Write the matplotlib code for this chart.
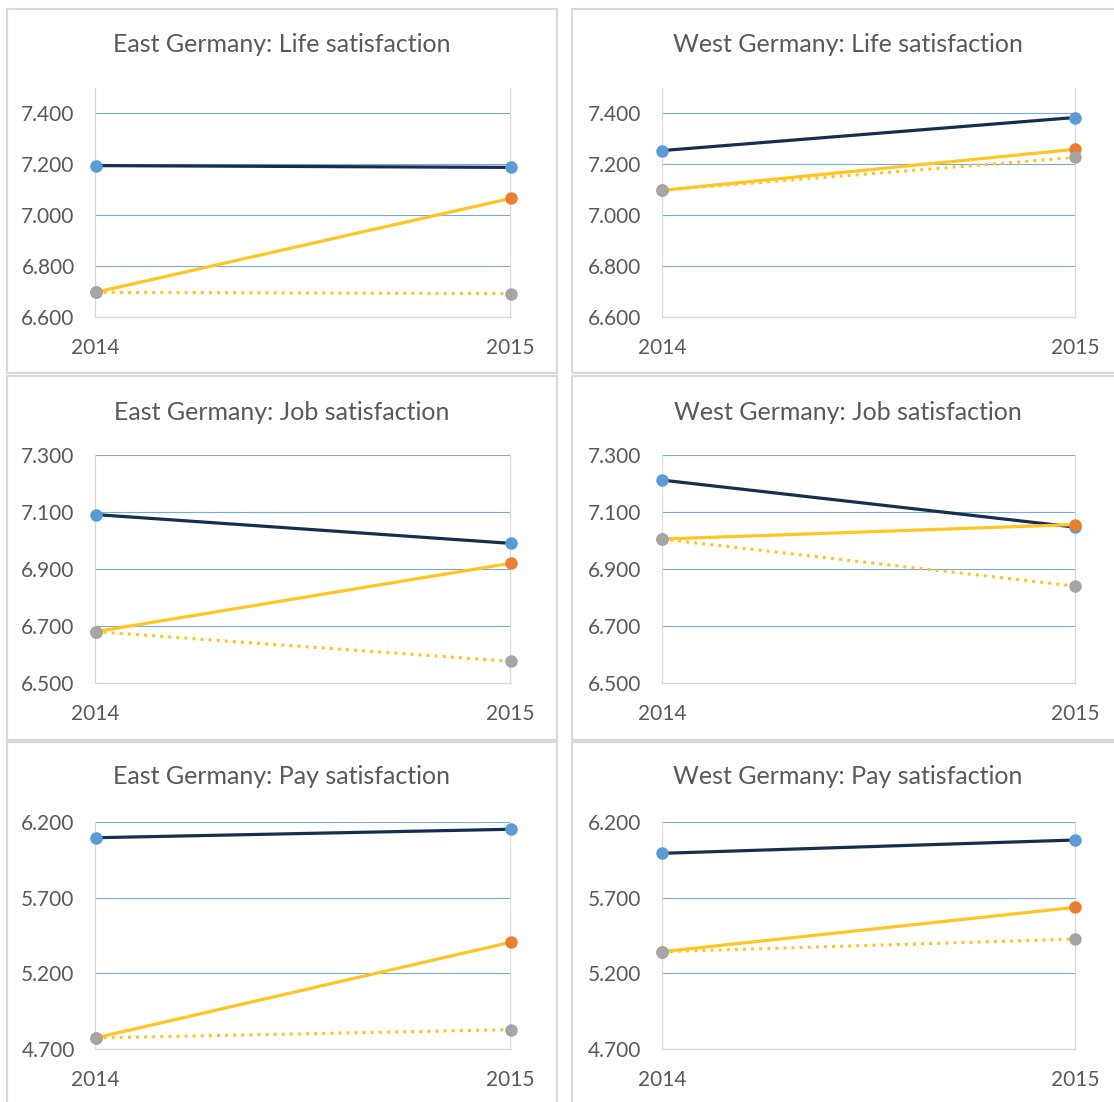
import matplotlib
matplotlib.use('Agg')
import matplotlib.pyplot as plt
from matplotlib.patches import Rectangle

plt.rcParams['font.family'] = ['Lato', 'DejaVu Sans']

# ---- data ----
years = [2014, 2015]

east_life_actual = [7.195, 7.188]
east_life_treat = [6.697, 7.066]
east_life_cf = [6.697, 6.692]

west_life_actual = [7.254, 7.384]
west_life_treat = [7.098, 7.259]
west_life_cf = [7.098, 7.227]

east_job_actual = [7.091, 6.990]
east_job_treat = [6.680, 6.920]
east_job_cf = [6.680, 6.576]

west_job_actual = [7.212, 7.047]
west_job_treat = [7.005, 7.056]
west_job_cf = [7.005, 6.840]

east_pay_actual = [6.096, 6.152]
east_pay_treat = [4.773, 5.405]
east_pay_cf = [4.773, 4.828]

west_pay_actual = [5.993, 6.081]
west_pay_treat = [5.343, 5.636]
west_pay_cf = [5.343, 5.426]

life_ticks = [6.6, 6.8, 7.0, 7.2, 7.4]
job_ticks = [6.5, 6.7, 6.9, 7.1, 7.3]
pay_ticks = [4.7, 5.2, 5.7, 6.2]

titles = ['East Germany: Life satisfaction', 'West Germany: Life satisfaction',
          'East Germany: Job satisfaction', 'West Germany: Job satisfaction',
          'East Germany: Pay satisfaction', 'West Germany: Pay satisfaction']

# ---- style ----
navy = '#172f4f'
blue = '#5B9BD5'
orange = '#ED7D31'
gray = '#A5A5A5'
gold = '#FFC522'
txt = '#595959'
frame = '#D9D9D9'
gridc = '#7AA8DC'

W, H = 1114, 1102
fig = plt.figure(figsize=(W / 100, H / 100), dpi=100)
fig.patch.set_facecolor('white')


def px_rect(x0, y0, x1, y1):
    return [x0 / W, 1 - y1 / H, (x1 - x0) / W, (y1 - y0) / H]


# panel layout in pixels
col_frames = [(7, 557), (572, 1124)]
col_plots = [(95.5, 510.5), (662, 1075)]
row_frames = [(9, 373), (376, 740), (742, 1110)]
row_plots = [(88, 317), (455, 683), (822, 1049)]
row_titles = [45, 412, 777]

panels = [
    (0, 0, east_life_actual, east_life_treat, east_life_cf, (6.6, 7.5), life_ticks),
    (0, 1, west_life_actual, west_life_treat, west_life_cf, (6.6, 7.5), life_ticks),
    (1, 0, east_job_actual, east_job_treat, east_job_cf, (6.5, 7.3), job_ticks),
    (1, 1, west_job_actual, west_job_treat, west_job_cf, (6.5, 7.3), job_ticks),
    (2, 0, east_pay_actual, east_pay_treat, east_pay_cf, (4.7, 6.2), pay_ticks),
    (2, 1, west_pay_actual, west_pay_treat, west_pay_cf, (4.7, 6.2), pay_ticks),
]

for i, (r, c, actual, treat, cf, ylim, yticks) in enumerate(panels):
    fx0, fx1 = col_frames[c]
    fy0, fy1 = row_frames[r]
    fig.add_artist(Rectangle((fx0 / W, 1 - fy1 / H), (fx1 - fx0) / W, (fy1 - fy0) / H,
                             transform=fig.transFigure, fill=False,
                             edgecolor=frame, lw=1.6))
    fig.text(((fx0 + fx1) / 2) / W, 1 - row_titles[r] / H, titles[i],
             ha='center', va='center', fontsize=18, color=txt)

    px0, px1 = col_plots[c]
    py0, py1 = row_plots[r]
    ax = fig.add_axes(px_rect(px0, py0, px1, py1))
    ax.set_facecolor('none')
    ax.set_xlim(2014, 2015)
    ax.set_ylim(*ylim)
    for s in ['left', 'right', 'bottom']:
        ax.spines[s].set_color(frame)
        ax.spines[s].set_linewidth(0.9)
    ax.spines['top'].set_visible(False)

    ax.set_yticks(yticks)
    ax.set_yticklabels(['%.3f' % t for t in yticks])
    ax.set_xticks(years)
    ax.set_xticklabels([str(y) for y in years])
    ax.tick_params(axis='both', length=0, labelsize=15, colors=txt)
    ax.tick_params(axis='y', pad=15)
    ax.tick_params(axis='x', pad=15)
    ax.grid(axis='y', color=gridc, lw=0.8)
    ax.grid(axis='x', visible=False)
    ax.set_axisbelow(True)

    ax.plot(years, actual, color=navy, lw=2.3, marker='o', ms=9,
            mfc=blue, mec=blue, mew=0, clip_on=False, zorder=3)
    ax.plot(years, treat, color=gold, lw=2.3, marker='o', ms=9,
            mfc=orange, mec=orange, mew=0, clip_on=False, zorder=4)
    ax.plot(years, cf, color=gold, lw=2.2, ls=':', marker='o', ms=9,
            mfc=gray, mec=gray, mew=0, clip_on=False, zorder=5)

fig.savefig('out.png', dpi=100, facecolor='white')
